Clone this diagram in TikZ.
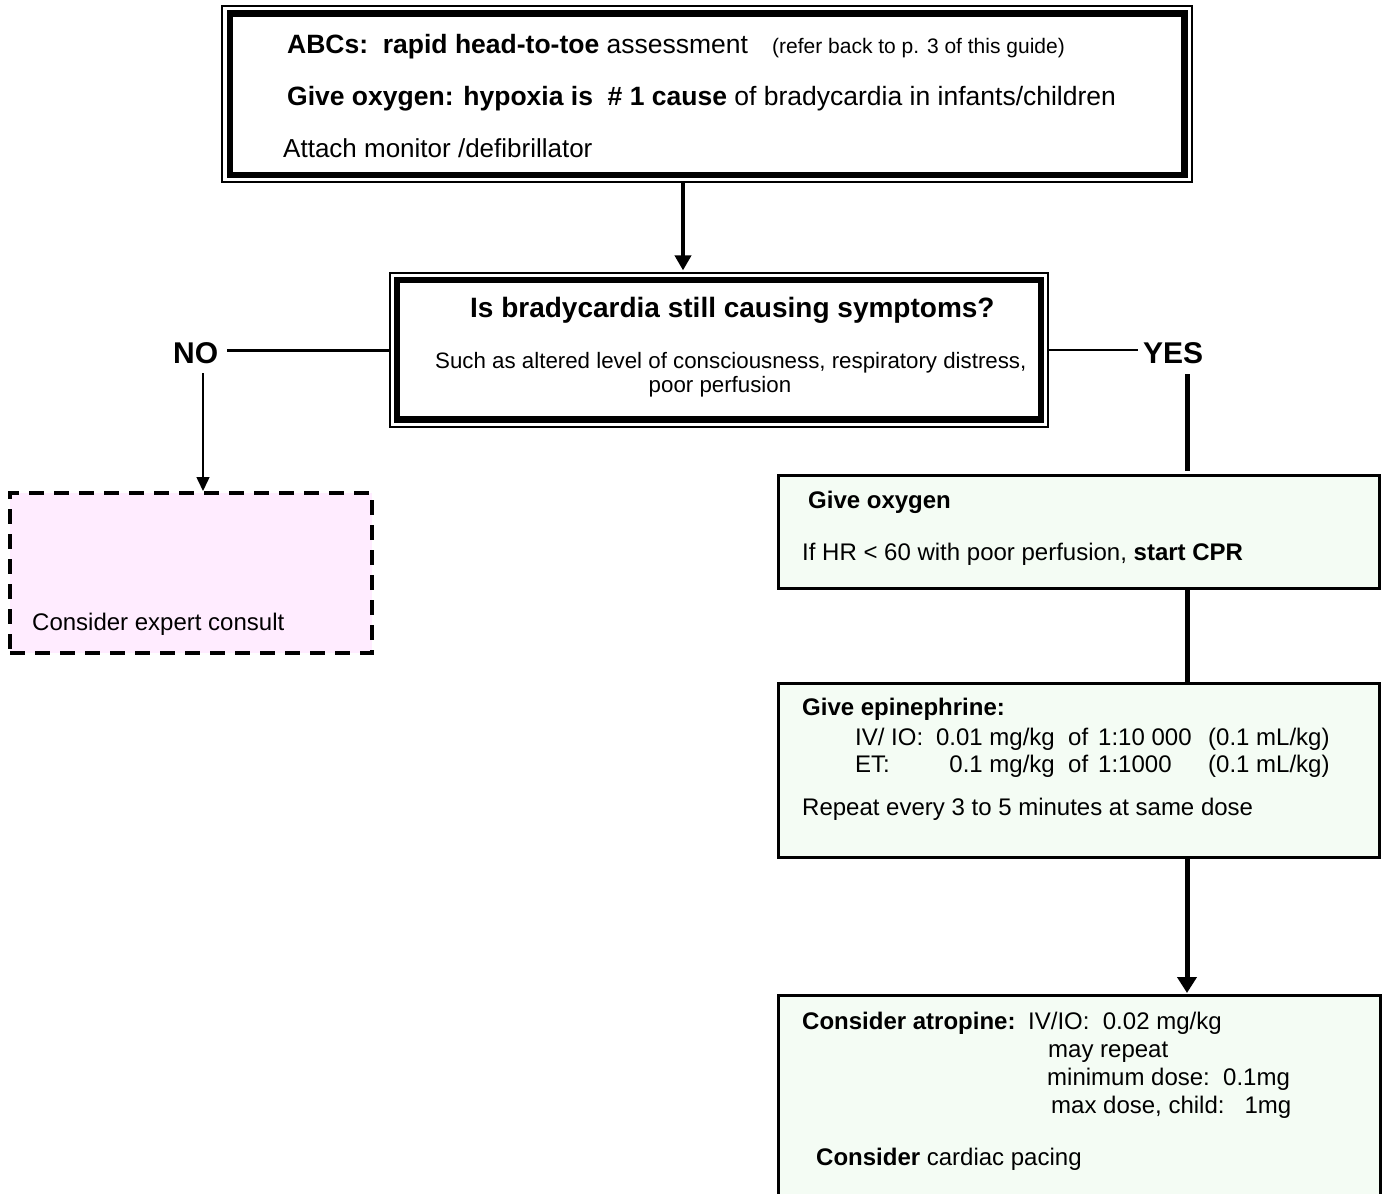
\documentclass[tikz,border=0pt]{standalone}
\usepackage{fontspec}
\setmainfont{Liberation Sans}
\usetikzlibrary{arrows.meta,calc}
\definecolor{boxgreen}{RGB}{244,252,244}
\definecolor{boxpink}{RGB}{255,236,255}
\newcommand{\fsz}[1]{\fontsize{#1pt}{#1pt}\selectfont}
\begin{document}
\begin{tikzpicture}[x=1pt,y=-1pt,
  txt/.style={inner sep=0pt,anchor=base west},
  thinbox/.style={draw,line width=1.2pt,inner sep=0pt},
  thickbox/.style={draw,line width=6.5pt,inner sep=0pt},
  greenbox/.style={draw,fill=boxgreen,line width=3pt,inner sep=0pt},
  pinkbox/.style={draw,fill=boxpink,line width=4pt,dash pattern=on 15pt off 10pt,inner sep=0pt},
  conn/.style={line width=5pt},
  lab/.style={inner sep=0pt,anchor=base west,font=\fsz{30}\bfseries}]
\useasboundingbox (0,0) rectangle (1385,1194);
\clip (0,0) rectangle (1385,1194);
\fill[white] (0,0) rectangle (1385,1194);

% top box
\node[thinbox,minimum width=970pt,minimum height=176pt,fill=white] (topout) at (707,94) {};
\node[thickbox,minimum width=954.5pt,minimum height=161.5pt] (topin) at (707.25,94.25) {};
% decision box
\node[thinbox,minimum width=658pt,minimum height=154pt,fill=white] (decout) at (719,350) {};
\node[thickbox,minimum width=644pt,minimum height=139.5pt] (decin) at (719,349.75) {};
% pink box
\node[pinkbox,minimum width=362pt,minimum height=160pt] (cons) at (191,573) {};
% green boxes
\node[greenbox,minimum width=601pt,minimum height=113pt] (g1) at (1078.5,531.5) {};
\node[greenbox,minimum width=601pt,minimum height=174pt] (g2) at (1078.5,770) {};
\node[greenbox,minimum width=602pt,minimum height=234.5pt] (g3) at (1079,1112.75) {};

% labels
\node[lab] (no) at (173,363) {NO};
\node[lab] (yes) at (1143,363) {YES};

% connectors
\coordinate (ax) at (683,0);
\coordinate (nx) at (203,0);
\coordinate (sx) at (1187,0);
\draw[line width=4pt,-{Triangle[width=16pt,length=15pt]}] (ax |- topout.south) -- ([yshift=2pt]ax |- decout.north);
\draw[line width=3pt] ([xshift=9pt]no.east |- decout.west) -- (decout.west);
\draw[line width=1.5pt,-{Triangle[width=13pt,length=14pt]}] ([yshift=-10pt]nx |- no.south) -- (nx |- cons.north);
\draw[line width=2.5pt] (decout.east) -- ([xshift=-5pt]yes.west |- decout.east);
\draw[conn] ([yshift=-11pt]sx |- yes.south) -- ([yshift=3pt]sx |- g1.north);
\draw[conn] (sx |- g1.south) -- (sx |- g2.north);
\draw[conn,-{Triangle[width=19pt,length=16pt]}] (sx |- g2.south) -- ([yshift=1pt]sx |- g3.north);

% top box text
\node[txt,font=\fsz{26.5}] (t1) at (287,53) {\textbf{ABCs:\ \ rapid head-to-toe} assessment};
\node[txt,font=\fsz{21}] (t1b) at (772,53) {(refer back to p. 3 of this guide)};
\node[txt,font=\fsz{26.5}] (t2) at (287,105) {\textbf{Give oxygen: hypoxia is\ \ \# 1 cause} of bradycardia in infants/children};
\node[txt,font=\fsz{26}] (t3) at (283,157) {Attach monitor /defibrillator};

% decision text
\node[txt,font=\fsz{28}\bfseries] (d1) at (470,317) {Is bradycardia still causing symptoms?};
\node[txt,font=\fsz{22.3}] (d2) at (435,368) {Such as altered level of consciousness, respiratory distress,};
\node[inner sep=0pt,anchor=base,font=\fsz{22.3}] (d3) at (720,392) {poor perfusion};

% pink text
\node[txt,font=\fsz{24}] (c1) at (32,630) {Consider expert consult};

% green box 1
\node[txt,font=\fsz{24}\bfseries] (o1) at (808,508) {Give oxygen};
\node[txt,font=\fsz{24}] (o2) at (802,560) {If HR < 60 with poor perfusion, \textbf{start CPR}};

% green box 2
\node[txt,font=\fsz{24}\bfseries] (e1) at (802,715) {Give epinephrine:};
\node[txt,font=\fsz{24}] (e2a) at (855,745) {IV/ IO:};
\node[inner sep=0pt,anchor=base east,font=\fsz{24}] (e2b) at (1055,745) {0.01 mg/kg};
\node[txt,font=\fsz{24}] (e2c) at (1068,745) {of};
\node[txt,font=\fsz{24}] (e2d) at (1098,745) {1:10 000};
\node[txt,font=\fsz{24}] (e2e) at (1208,745) {(0.1 mL/kg)};
\node[txt,font=\fsz{24}] (e3a) at (855,772) {ET:};
\node[inner sep=0pt,anchor=base east,font=\fsz{24}] (e3b) at (1055,772) {0.1 mg/kg};
\node[txt,font=\fsz{24}] (e3c) at (1068,772) {of};
\node[txt,font=\fsz{24}] (e3d) at (1098,772) {1:1000};
\node[txt,font=\fsz{24}] (e3e) at (1208,772) {(0.1 mL/kg)};
\node[txt,font=\fsz{24}] (e4) at (802,815) {Repeat every 3 to 5 minutes at same dose};

% green box 3
\node[txt,font=\fsz{24}\bfseries] (a1) at (802,1029) {Consider atropine:};
\node[txt,font=\fsz{24}] (a1b) at (1028,1029) {IV/IO:\ \ 0.02 mg/kg};
\node[txt,font=\fsz{24}] (a2) at (1048,1057) {may repeat};
\node[txt,font=\fsz{24}] (a3) at (1047,1085) {minimum dose:\ \ 0.1mg};
\node[txt,font=\fsz{24}] (a4) at (1051,1113) {max dose, child:\ \ \ 1mg};
\node[txt,font=\fsz{24}] (a5) at (816,1165) {\textbf{Consider} cardiac pacing};
\end{tikzpicture}
\end{document}
